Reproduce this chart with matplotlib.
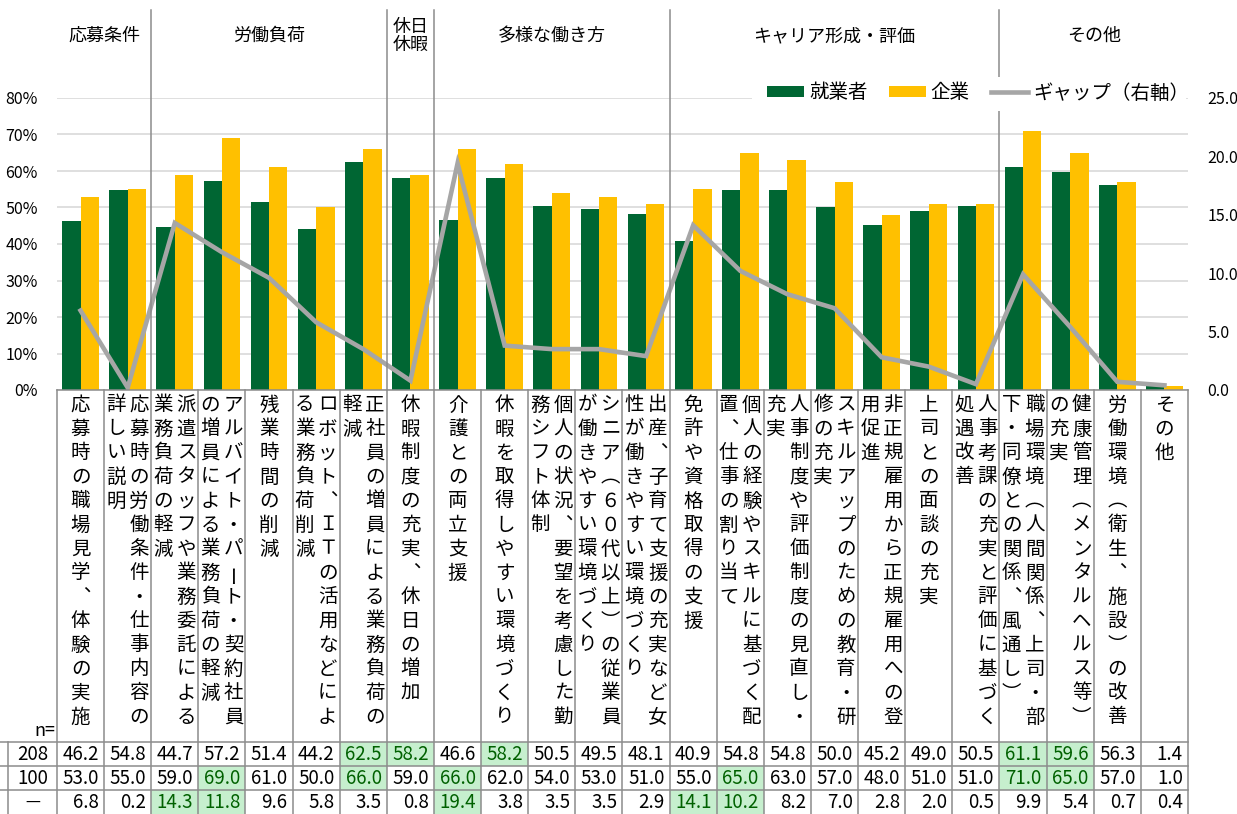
import matplotlib
matplotlib.use('Agg')
import matplotlib.pyplot as plt
from matplotlib.patches import Patch, Rectangle
from matplotlib.lines import Line2D
from matplotlib.transforms import blended_transform_factory
import numpy as np

plt.rcParams['font.family'] = ['Noto Sans CJK JP', 'DejaVu Sans']

# ---------------- data ----------------
categories = [
    '応募時の職場見学、体験の実施',
    '応募時の労働条件・仕事内容の詳しい説明',
    '派遣スタッフや業務委託による業務負荷の軽減',
    'アルバイト・パート・契約社員の増員による業務負荷の軽減',
    '残業時間の削減',
    'ロボット、ＩＴの活用などによる業務負荷削減',
    '正社員の増員による業務負荷の軽減',
    '休暇制度の充実、休日の増加',
    '介護との両立支援',
    '休暇を取得しやすい環境づくり',
    '個人の状況、要望を考慮した勤務シフト体制',
    'シニア（６０代以上）の従業員が働きやすい環境づくり',
    '出産、子育て支援の充実など女性が働きやすい環境づくり',
    '免許や資格取得の支援',
    '個人の経験やスキルに基づく配置、仕事の割り当て',
    '人事制度や評価制度の見直し・充実',
    'スキルアップのための教育・研修の充実',
    '非正規雇用から正規雇用への登用促進',
    '上司との面談の充実',
    '人事考課の充実と評価に基づく処遇改善',
    '職場環境（人間関係、上司・部下・同僚との関係、風通し）',
    '健康管理（メンタルヘルス等）の充実',
    '労働環境（衛生、施設）の改善',
    'その他',
]
workers = [46.2, 54.8, 44.7, 57.2, 51.4, 44.2, 62.5, 58.2, 46.6, 58.2, 50.5, 49.5,
           48.1, 40.9, 54.8, 54.8, 50.0, 45.2, 49.0, 50.5, 61.1, 59.6, 56.3, 1.4]
companies = [53.0, 55.0, 59.0, 69.0, 61.0, 50.0, 66.0, 59.0, 66.0, 62.0, 54.0, 53.0,
             51.0, 55.0, 65.0, 63.0, 57.0, 48.0, 51.0, 51.0, 71.0, 65.0, 57.0, 1.0]
gap = [6.8, 0.2, 14.3, 11.8, 9.6, 5.8, 3.5, 0.8, 19.4, 3.8, 3.5, 3.5,
       2.9, 14.1, 10.2, 8.2, 7.0, 2.8, 2.0, 0.5, 9.9, 5.4, 0.7, 0.4]
n_labels = ['208', '100', '－']
series_labels = ['就業者', '企業', 'ギャップ（右軸）']
groups = [('応募条件', 0, 2), ('労働負荷', 2, 7), ('休日\n休暇', 7, 8),
          ('多様な働き方', 8, 13), ('キャリア形成・評価', 13, 20), ('その他', 20, 24)]
highlight_workers = [6, 7, 9, 20, 21]
highlight_companies = [3, 6, 8, 14, 20, 21]
highlight_gap = [2, 3, 8, 13, 14]
left_ticks = [0, 10, 20, 30, 40, 50, 60, 70, 80]
right_ticks = [0, 5, 10, 15, 20, 25]

# ---------------- styles ----------------
GREEN = '#006633'
YELLOW = '#FFC000'
GRAY_LINE = '#A6A6A6'
GRID = '#D9D9D9'
BORDER = '#8C8C8C'
HL_FILL = '#C6EFCE'
HL_TEXT = '#006100'

W, H = 1237, 814
fig = plt.figure(figsize=(W / 100, H / 100), dpi=100)
fig.patch.set_facecolor('white')

AX_L, AX_R, AX_T, AX_B = 57, 1188, 98, 390
ax = fig.add_axes([AX_L / W, 1 - AX_B / H, (AX_R - AX_L) / W, (AX_B - AX_T) / H])
ax2 = ax.twinx()

def fy(ypx):
    return 1 - ypx / H

def fx(xpx):
    return xpx / W

x = np.arange(len(categories))
bw = 0.39
ax.bar(x - bw / 2, workers, bw, color=GREEN, zorder=2)
ax.bar(x + bw / 2, companies, bw, color=YELLOW, zorder=2)
ax.set_xlim(-0.5, len(categories) - 0.5)
ax.set_ylim(0, 80)
ax.set_yticks(left_ticks)
ax.set_yticklabels([f'{t}%' for t in left_ticks])
ax.set_axisbelow(True)
ax.yaxis.grid(True, color=GRID, lw=1.2)
ax.set_xticks([])
ax.tick_params(axis='y', length=0, pad=14, labelsize=11.5)
for s in ax.spines.values():
    s.set_visible(False)

ax2.plot(x, gap, color=GRAY_LINE, lw=3.3, solid_joinstyle='miter', zorder=3)
ax2.set_ylim(0, 25)
ax2.set_yticks(right_ticks)
ax2.set_yticklabels([f'{t:.1f}' for t in right_ticks])
ax2.tick_params(axis='y', length=0, pad=14, labelsize=11.5)
for s in ax2.spines.values():
    s.set_visible(False)

bt = blended_transform_factory(ax.transData, fig.transFigure)

# ---------------- group headers ----------------
for name, a, b in groups:
    cx = (a + b - 1) / 2
    fig.text(cx, fy(36), name, transform=bt, ha='center', va='center',
             fontsize=13, linespacing=0.95, zorder=3)
for name, a, b in groups[1:]:
    fig.add_artist(Line2D([a - 0.5, a - 0.5], [fy(10), fy(AX_B)], transform=bt,
                          color=BORDER, lw=1.1, zorder=1))

# legend background + legend
fig.add_artist(Rectangle((fx(752), fy(111)), fx(1186) - fx(752), fy(77) - fy(111),
                         transform=fig.transFigure, facecolor='white', edgecolor='none', zorder=4))
handles = [Patch(facecolor=GREEN, edgecolor='none'),
           Patch(facecolor=YELLOW, edgecolor='none'),
           Line2D([], [], color=GRAY_LINE, lw=3.3)]
fig.legend(handles, series_labels, loc='center', bbox_to_anchor=(fx(978), fy(93)),
           ncol=3, frameon=False, fontsize=14, handlelength=1.9, handleheight=0.45,
           handletextpad=0.25, columnspacing=1.1, borderpad=0.2)

# ---------------- table ----------------
ROWS = [742, 766, 790, 814]
for k in range(len(categories) + 1):
    fig.add_artist(Line2D([k - 0.5, k - 0.5], [fy(AX_B), fy(814)], transform=bt,
                          color=BORDER, lw=1.1, zorder=2))
fig.add_artist(Line2D([-0.5, len(categories) - 0.5], [fy(AX_B), fy(AX_B)], transform=bt,
                      color=BORDER, lw=1.1, zorder=2))
for r in ROWS[:3]:
    fig.add_artist(Line2D([0, fx(AX_R)], [fy(r), fy(r)], transform=fig.transFigure,
                          color=BORDER, lw=1.1, zorder=2))
fig.add_artist(Line2D([fx(8), fx(8)], [fy(ROWS[0]), fy(814)], transform=fig.transFigure,
                      color=BORDER, lw=1.1, zorder=2))

# vertical category labels (columns read right-to-left)
VERT = {'、': '︑', '（': '︵', '）': '︶'}
PER_COL = 14
COL_OFF = 0.49
for i, label in enumerate(categories):
    cols = [label[j:j + PER_COL] for j in range(0, len(label), PER_COL)]
    nc = len(cols)
    for c, text in enumerate(cols):
        cx = i + (nc - 1) / 2 * COL_OFF - c * COL_OFF
        for r, ch in enumerate(text):
            yy = fy(405 + 24 * r)
            if ch == 'ー':
                fig.text(cx, yy, 'ー', transform=bt, ha='center', va='center',
                         fontsize=14, rotation=90, zorder=3)
            else:
                fig.text(cx, yy, VERT.get(ch, ch), transform=bt, ha='center',
                         va='center', fontsize=14, zorder=3)

fig.text(fx(55), fy(731), 'n=', ha='right', va='center', fontsize=13, zorder=3)

rows_data = [(workers, highlight_workers), (companies, highlight_companies), (gap, highlight_gap)]
for ri, (vals, hl) in enumerate(rows_data):
    top, bot = ROWS[ri], ROWS[ri + 1]
    yc = fy((top + bot) / 2 + 1)
    fig.text(fx(32.5), yc, n_labels[ri], ha='center', va='center', fontsize=13.5, zorder=3)
    for k, v in enumerate(vals):
        is_hl = k in hl
        if is_hl:
            fig.add_artist(Rectangle((k - 0.5, fy(bot)), 1, fy(top) - fy(bot), transform=bt,
                                     facecolor=HL_FILL, edgecolor='none', zorder=1))
        fig.text(k + 0.5 - 0.11, yc, f'{v:.1f}', transform=bt, ha='right', va='center',
                 fontsize=13.5, color=HL_TEXT if is_hl else 'black', zorder=3)

fig.savefig('out.png', dpi=100, facecolor='white')
